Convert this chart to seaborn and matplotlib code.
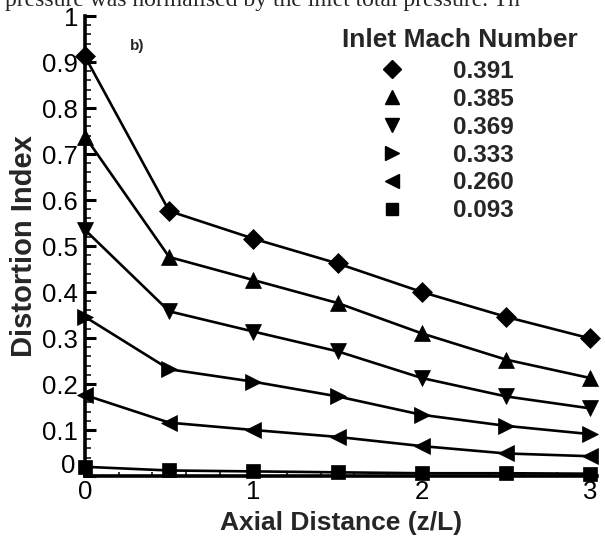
import numpy as np
import pandas as pd
import matplotlib
matplotlib.use("Agg")
import matplotlib.pyplot as plt
import matplotlib.transforms as mtransforms
from matplotlib.lines import Line2D
from matplotlib.ticker import MultipleLocator
import seaborn as sns

# ---- data ----
z = [0, 0.5, 1, 1.5, 2, 2.5, 3]
mach_labels = ["0.391", "0.385", "0.369", "0.333", "0.260", "0.093"]
d_0391 = [0.912, 0.576, 0.516, 0.462, 0.400, 0.346, 0.299]
d_0385 = [0.738, 0.476, 0.426, 0.376, 0.310, 0.253, 0.213]
d_0369 = [0.535, 0.358, 0.314, 0.271, 0.213, 0.173, 0.147]
d_0333 = [0.346, 0.232, 0.205, 0.173, 0.133, 0.109, 0.091]
d_0260 = [0.176, 0.116, 0.100, 0.085, 0.065, 0.049, 0.043]
d_0093 = [0.020, 0.012, 0.010, 0.008, 0.006, 0.006, 0.005]
series = [d_0391, d_0385, d_0369, d_0333, d_0260, d_0093]
markers = ["D", "^", "v", ">", "<", "s"]
xticks = [0, 1, 2, 3]
yticks = [0, 0.1, 0.2, 0.3, 0.4, 0.5, 0.6, 0.7, 0.8, 0.9, 1]
ytick_labels = ["0", "0.1", "0.2", "0.3", "0.4", "0.5", "0.6", "0.7", "0.8", "0.9", "1"]

sns.set_theme(style="ticks")
plt.rcParams["font.family"] = ["Liberation Sans", "DejaVu Sans"]

fig = plt.figure(figsize=(6.05, 5.38), dpi=100)
ax = fig.add_axes([85 / 605, 1 - 476 / 538, (597 - 85) / 605, (476 - 16) / 538])

msizes = {"D": 10, "^": 11, "v": 11, ">": 11, "<": 11, "s": 9.5}
for vals, m, lab in zip(series, markers, mach_labels):
    df = pd.DataFrame({"z": z, "d": vals})
    sns.lineplot(data=df, x="z", y="d", ax=ax, color="black", linewidth=1.9,
                 marker=m, markersize=msizes[m], markeredgecolor="black",
                 markerfacecolor="black", markeredgewidth=0.5, clip_on=False,
                 legend=False, zorder=3)

ax.set_xlim(0, 3.04)
ax.set_ylim(0, 1)
ax.set_xticks(xticks)
ax.set_xticklabels([str(t) for t in xticks])
ax.set_yticks(yticks)
ax.set_yticklabels(ytick_labels)
ax.yaxis.set_minor_locator(MultipleLocator(0.02))
ax.xaxis.set_minor_locator(MultipleLocator(0.2))
ax.tick_params(axis="both", which="major", direction="in", length=8, width=2.2,
               labelsize=18.5, pad=5, colors="black")
ax.tick_params(axis="both", which="minor", direction="in", length=4, width=1.3)
ax.tick_params(axis="x", which="both", length=3, pad=3)
for s in ["top", "right"]:
    ax.spines[s].set_visible(False)
for s in ["left", "bottom"]:
    ax.spines[s].set_linewidth(2.6)
    ax.spines[s].set_color("black")

# y "0" label sits slightly above the axis, as in the original
fig.canvas.draw()
lbl0 = ax.get_yticklabels()[0]
lbl0.set_transform(lbl0.get_transform() + mtransforms.ScaledTranslation(-2 / 72, 9 / 72, fig.dpi_scale_trans))

ax.set_xlabel("Axial Distance (z/L)", fontsize=19, fontweight="bold", labelpad=5)
ax.set_ylabel("Distortion Index", fontsize=21, fontweight="bold", labelpad=3)

handles = [Line2D([], [], linestyle="none", marker=m, color="black",
                  markersize=msizes[m] - 1) for m in markers]
leg = ax.legend(handles, mach_labels, loc="upper left",
                bbox_to_anchor=(380 / 605, 1 - 60 / 538), bbox_transform=fig.transFigure,
                frameon=False, handlelength=1.0, handletextpad=2.0,
                labelspacing=0.2, borderpad=0, borderaxespad=0,
                prop={"weight": "bold", "size": 17.5})
fig.text(460 / 605, 1 - 40 / 538, "Inlet Mach Number", fontsize=19, fontweight="bold",
         ha="center", va="center")

fig.text(130 / 605, 1 - 46 / 538, "b)", fontsize=11, fontweight="bold", va="center")
fig.text(5 / 605, 1 - 6 / 538, "pressure was normalised by the inlet total pressure. Th",
         family=["Liberation Serif", "DejaVu Serif"], fontsize=17, va="baseline")

fig.savefig("out.png", dpi=100)
